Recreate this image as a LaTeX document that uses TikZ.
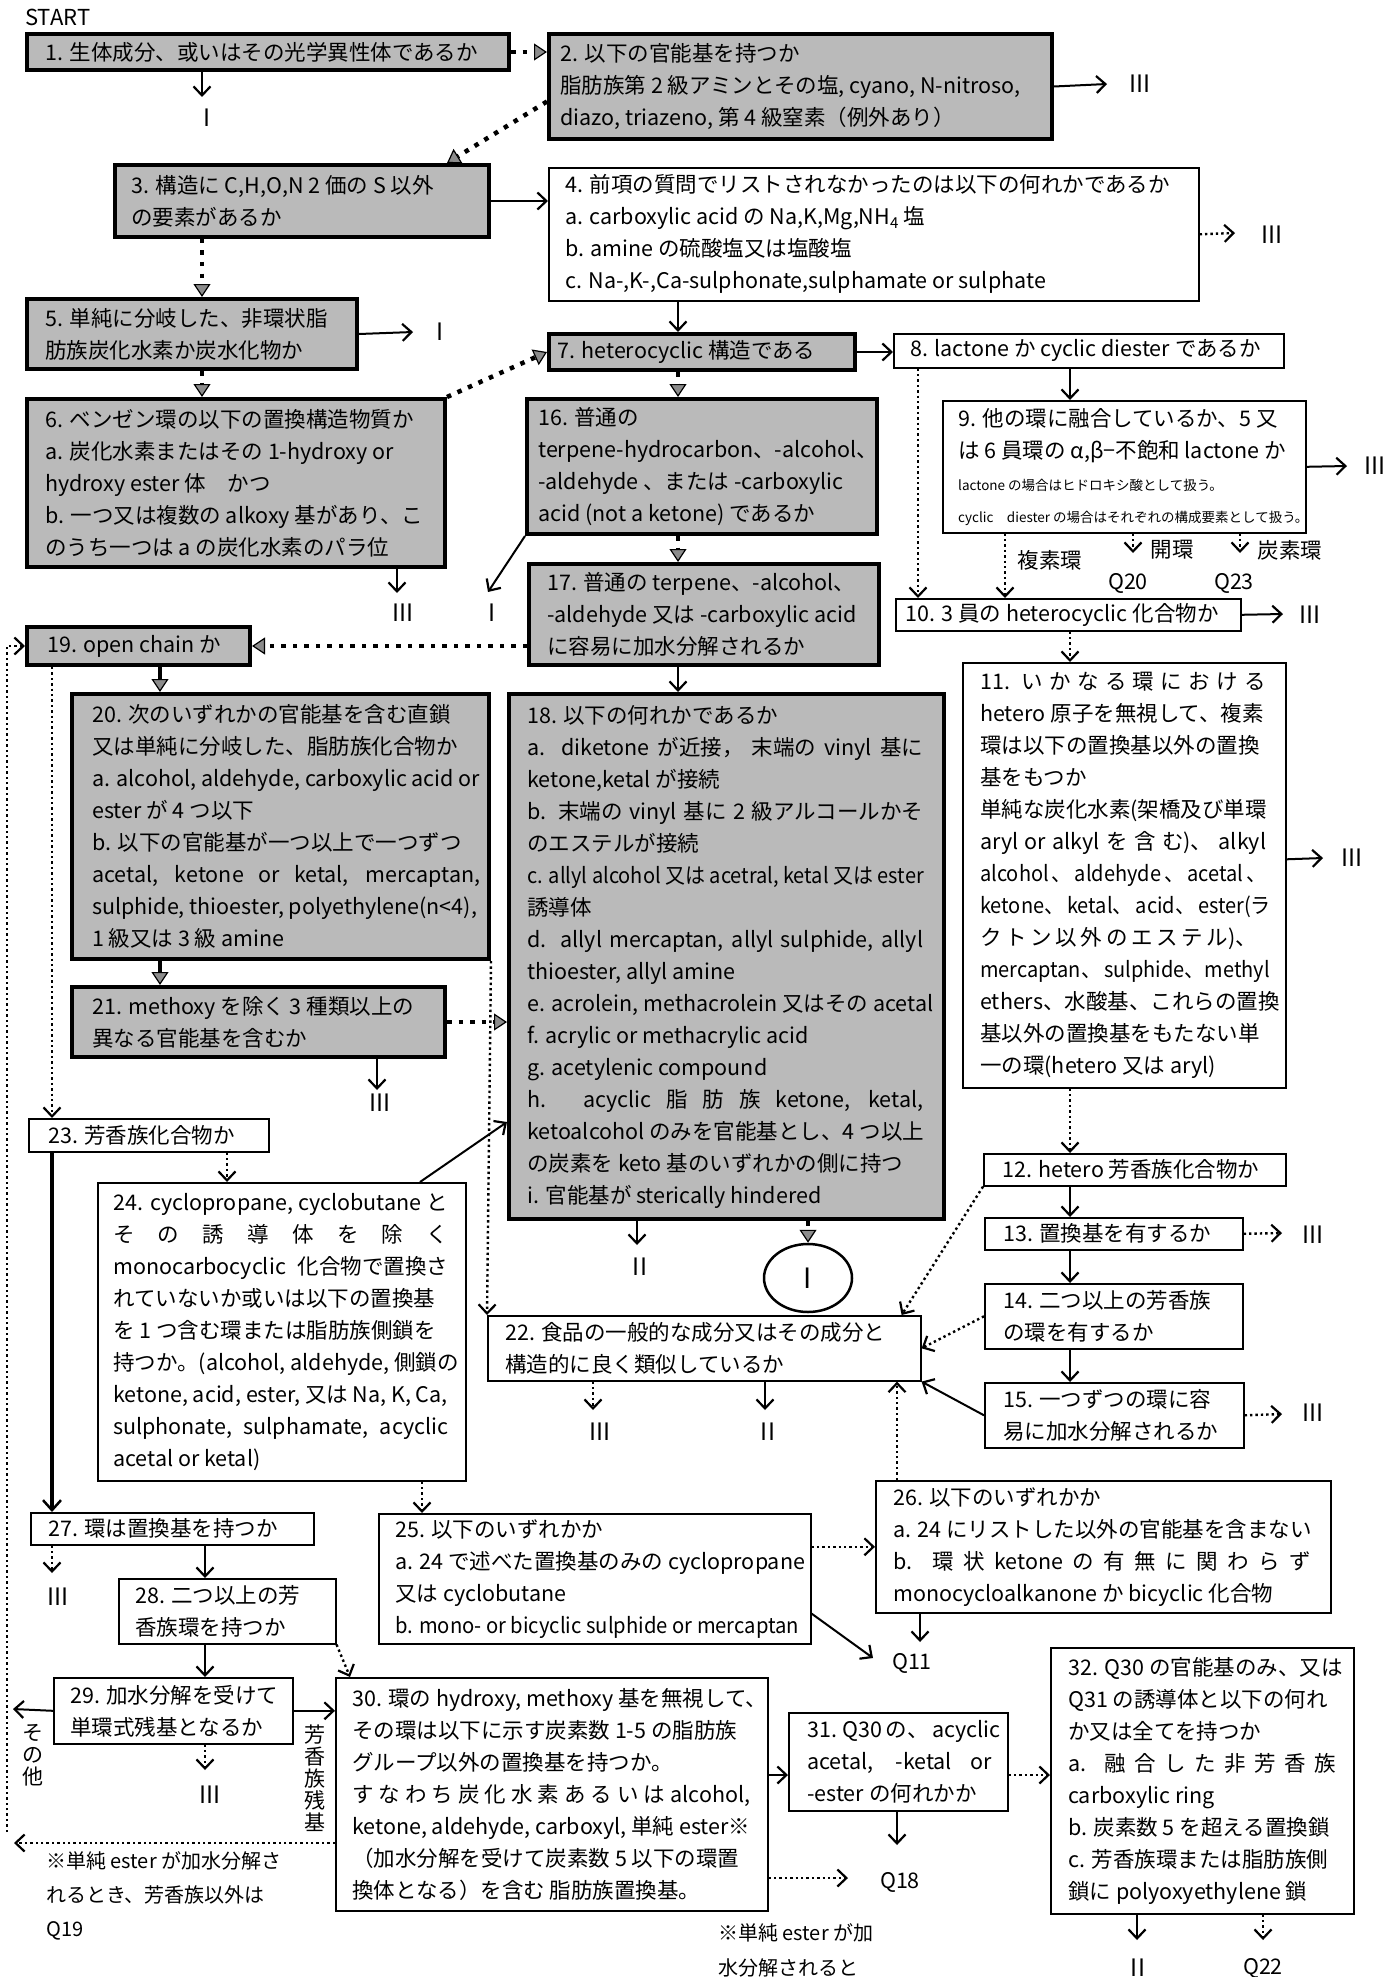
\documentclass[tikz,border=0pt]{standalone}
\usepackage{fontspec}
\usepackage{graphicx}
\setmainfont{Noto Sans CJK JP}
\usetikzlibrary{arrows.meta,shapes.geometric}
\newcommand\jl[2]{\makebox[#1][s]{#2}}
\newcommand\sqz[2]{\scalebox{#1}[1]{#2}}
\newcommand\bx[8]{%
  \node[#1, minimum width=#4pt-#2pt, minimum height=#5pt-#3pt, anchor=north west] (#6) at (#2,#3) {};
  \node[txt] (#6t) at ([xshift=#7pt]#6.west) {#8};}
\begin{document}
\begin{tikzpicture}[x=1pt,y=-1pt,
 font=\fontsize{21.5}{32}\selectfont,
 shb/.style={draw=black,line width=4pt,fill=black!27,inner sep=0pt},
 whb/.style={draw=black,line width=1.6pt,fill=white,inner sep=0pt},
 txt/.style={align=left,inner sep=0pt,anchor=west},
 lab/.style={inner sep=0pt,font=\fontsize{24}{24}\selectfont},
 qlab/.style={inner sep=0pt,font=\fontsize{21.5}{24}\selectfont},
 vlab/.style={inner sep=0pt,align=center,font=\fontsize{21}{22}\selectfont},
 sa/.style={line width=2pt,-{Straight Barb[length=9pt,width=17pt,line width=2.2pt]}},
 da/.style={line width=2.4pt,dash pattern=on 2.4pt off 3pt,-{Straight Barb[length=9pt,width=17pt,line width=2.2pt]}},
 gd/.style={line width=4.5pt,dash pattern=on 4.5pt off 7pt,-{Triangle[length=13pt,width=17pt,line width=1.2pt,fill=black!45]}},
 gs/.style={line width=4pt,-{Triangle[length=13pt,width=17pt,line width=1.2pt,fill=black!45]}},
 tk/.style={line width=3.5pt,-{Straight Barb[length=10pt,width=18pt,line width=2.5pt]}},
]
\fill[white] (0,0) rectangle (1398,1977);
\useasboundingbox (0,0) rectangle (1398,1977);

\node[anchor=west,inner sep=0pt,font=\fontsize{22}{24}\selectfont] (start) at (25,17) {START};

% ---------- boxes ----------
\bx{shb}{25}{32}{507}{68}{b1}{20}{1. 生体成分、或いはその光学異性体であるか}
\bx{shb}{547}{32}{1050}{137}{b2}{13}{2. 以下の官能基を持つか\\脂肪族第 2 級アミンとその塩, cyano, N-nitroso,\\diazo, triazeno, 第 4 級窒素（例外あり）}
\bx{shb}{113}{163}{487}{235}{b3}{18}{3. 構造に C,H,O,N 2 価の S 以外\\の要素があるか}
\bx{whb}{548}{167}{1198}{300}{b4}{17}{4. 前項の質問でリストされなかったのは以下の何れかであるか\\a. carboxylic acid の Na,K,Mg,NH\textsubscript{4} 塩\\b. amine の硫酸塩又は塩酸塩\\c. Na-,K-,Ca-sulphonate,sulphamate or sulphate}
\bx{shb}{25}{297}{355}{367}{b5}{20}{5. 単純に分岐した、非環状脂\\肪族炭化水素か炭水化物か}
\bx{shb}{25}{397}{443}{565}{b6}{20}{6. ベンゼン環の以下の置換構造物質か\\a. 炭化水素またはその 1-hydroxy or\\hydroxy ester 体　かつ\\b. 一つ又は複数の alkoxy 基があり、こ\\のうち一つは a の炭化水素のパラ位}
\bx{shb}{547}{332}{853}{368}{b7}{10}{7. heterocyclic 構造である}
\bx{whb}{893}{333}{1283}{367}{b8}{17}{8. lactone か cyclic diester であるか}
\bx{whb}{942}{400}{1305}{532}{b9}{16}{9. 他の環に融合しているか、5 又\\は 6 員環の α,β−不飽和 lactone か\\{\fontsize{13.5}{14}\selectfont lactone の場合はヒドロキシ酸として扱う。}\\{\fontsize{13.5}{14}\selectfont cyclic\quad diester の場合はそれぞれの構成要素として扱う。}}
\bx{whb}{895}{598}{1240}{630}{b10}{10}{10. 3 員の heterocyclic 化合物か}
\bx{whb}{962}{662}{1285}{1087}{b11}{18}{\jl{286pt}{11. い か な る 環 に お け る}\\hetero 原子を無視して、複素\\環は以下の置換基以外の置換\\基をもつか\\単純な炭化水素(架橋及び単環\\\jl{286pt}{aryl or alkyl を 含 む)、 alkyl}\\\sqz{0.93}{\jl{307pt}{alcohol 、 aldehyde 、 acetal 、}}\\\sqz{0.93}{\jl{307pt}{ketone、 ketal、 acid、 ester(ラ}}\\\jl{277pt}{ク ト ン 以 外 の エ ス テ ル)、}\\\sqz{0.93}{\jl{307pt}{mercaptan、 sulphide、methyl}}\\ethers、水酸基、これらの置換\\基以外の置換基をもたない単\\一の環(hetero 又は aryl)}
\bx{whb}{983}{1153}{1285}{1185}{b12}{19}{12. hetero 芳香族化合物か}
\bx{whb}{984}{1217}{1242}{1249}{b13}{19}{13. 置換基を有するか}
\bx{whb}{984}{1283}{1242}{1348}{b14}{19}{14. 二つ以上の芳香族\\の環を有するか}
\bx{whb}{984}{1382}{1243}{1447}{b15}{19}{15. 一つずつの環に容\\易に加水分解されるか}
\bx{shb}{525}{397}{875}{532}{b16}{13}{16. 普通の\\terpene-hydrocarbon、-alcohol、\\-aldehyde 、または -carboxylic\\acid (not a ketone) であるか}
\bx{shb}{527}{562}{877}{663}{b17}{20}{17. 普通の terpene、-alcohol、\\-aldehyde 又は -carboxylic acid\\に容易に加水分解されるか}
\bx{shb}{507}{692}{942}{1217}{b18}{20}{18. 以下の何れかであるか\\\jl{396pt}{a. diketone が近接， 末端の vinyl 基に}\\ketone,ketal が接続\\\jl{396pt}{b. 末端の vinyl 基に 2 級アルコールかそ}\\のエステルが接続\\\sqz{0.93}{c. allyl alcohol 又は acetral, ketal 又は ester}\\誘導体\\\jl{396pt}{d. allyl mercaptan, allyl sulphide, allyl}\\thioester, allyl amine\\e. acrolein, methacrolein 又はその acetal\\f. acrylic or methacrylic acid\\g. acetylenic compound\\\jl{396pt}{h. acyclic 脂 肪 族 ketone, ketal,}\\ketoalcohol のみを官能基とし、4 つ以上\\の炭素を keto 基のいずれかの側に持つ\\i. 官能基が sterically hindered}
\bx{shb}{25}{625}{248}{663}{b19}{22}{19. open chain か}
\bx{shb}{70}{692}{487}{957}{b20}{22}{20. 次のいずれかの官能基を含む直鎖\\又は単純に分岐した、脂肪族化合物か\\a. alcohol, aldehyde, carboxylic acid or\\ester が 4 つ以下\\b. 以下の官能基が一つ以上で一つずつ\\\jl{388pt}{acetal, ketone or ketal, mercaptan,}\\sulphide, thioester, polyethylene(n<4),\\1 級又は 3 級 amine}
\bx{shb}{70}{985}{443}{1055}{b21}{22}{21. methoxy を除く 3 種類以上の\\異なる官能基を含むか}
\bx{whb}{487}{1315}{920}{1380}{b22}{18}{22. 食品の一般的な成分又はその成分と\\構造的に良く類似しているか}
\bx{whb}{28}{1118}{268}{1151}{b23}{20}{23. 芳香族化合物か}
\bx{whb}{97}{1182}{465}{1480}{b24}{16}{\jl{335pt}{24. cyclopropane, cyclobutane と}\\\jl{335pt}{そ の 誘 導 体 を 除 く}\\\jl{335pt}{monocarbocyclic 化合物で置換さ}\\れていないか或いは以下の置換基\\を 1 つ含む環または脂肪族側鎖を\\持つか。(alcohol, aldehyde, 側鎖の\\ketone, acid, ester, 又は Na, K, Ca,\\\jl{335pt}{sulphonate, sulphamate, acyclic}\\acetal or ketal)}
\bx{whb}{378}{1513}{810}{1643}{b25}{17}{25. 以下のいずれかか\\a. 24 で述べた置換基のみの cyclopropane\\又は cyclobutane\\\sqz{0.94}{b. mono- or bicyclic sulphide or mercaptan}}
\bx{whb}{875}{1480}{1330}{1612}{b26}{18}{26. 以下のいずれかか\\a. 24 にリストした以外の官能基を含まない\\\jl{418pt}{b. 環 状 ketone の 有 無 に 関 わ ら ず}\\monocycloalkanone か bicyclic 化合物}
\bx{whb}{30}{1512}{313}{1544}{b27}{18}{27. 環は置換基を持つか}
\bx{whb}{118}{1578}{335}{1643}{b28}{17}{28. 二つ以上の芳\\香族環を持つか}
\bx{whb}{53}{1677}{292}{1743}{b29}{17}{29. 加水分解を受けて\\単環式残基となるか}
\bx{whb}{335}{1677}{767}{1910}{b30}{17}{30. 環の hydroxy, methoxy 基を無視して、\\その環は以下に示す炭素数 1-5 の脂肪族\\グループ以外の置換基を持つか。\\\jl{398pt}{す な わ ち 炭 化 水 素 あ る い は alcohol,}\\ketone, aldehyde, carboxyl, 単純 ester※\\（加水分解を受けて炭素数 5 以下の環置\\換体となる）を含む 脂肪族置換基。}
\bx{whb}{788}{1712}{1007}{1810}{b31}{19}{\jl{185pt}{31. Q30 の、 acyclic}\\\jl{185pt}{acetal, -ketal or}\\-ester の何れかか}
\bx{whb}{1050}{1647}{1353}{1913}{b32}{18}{32. Q30 の官能基のみ、又は\\Q31 の誘導体と以下の何れ\\か又は全てを持つか\\\jl{268pt}{a. 融 合 し た 非 芳 香 族}\\carboxylic ring\\b. 炭素数 5 を超える置換鎖\\c. 芳香族環または脂肪族側\\鎖に polyoxyethylene 鎖}

\node[ellipse,draw,line width=2.5pt,fill=white,minimum width=88pt,minimum height=68pt,inner sep=0pt,font=\fontsize{28}{28}\selectfont] (cI) at (808,1278) {I};

% ---------- terminal labels ----------
\node[lab] (l1) at (207,118) {I};
\node[lab] (l2) at (1140,84) {III};
\node[lab] (l4) at (1272,235) {III};
\node[lab] (l5) at (440,332) {I};
\node[lab] (l6) at (403,613) {III};
\node[lab] (l9) at (1375,466) {III};
\node[lab] (l10) at (1310,615) {III};
\node[lab] (l11) at (1352,858) {III};
\node[lab] (l13) at (1313,1235) {III};
\node[lab] (l15) at (1313,1413) {III};
\node[lab] (l16) at (492,613) {I};
\node[lab] (l18) at (640,1267) {II};
\node[lab] (l21) at (380,1103) {III};
\node[lab] (l22a) at (600,1432) {III};
\node[lab] (l22b) at (768,1432) {II};
\node[lab] (l27) at (58,1597) {III};
\node[lab] (l29) at (210,1795) {III};
\node[lab] (l32) at (1138,1968) {II};
\node[qlab] (q20) at (1128,583) {Q20};
\node[qlab] (q23) at (1234,583) {Q23};
\node[qlab] (q11) at (912,1663) {Q11};
\node[qlab] (q18) at (900,1882) {Q18};
\node[qlab] (q22) at (1263,1968) {Q22};
\node[qlab] (k1) at (1050,560) {複素環};
\node[qlab] (k2) at (1172,550) {開環};
\node[qlab] (k3) at (1290,550) {炭素環};
\node[vlab] (k4) at (33,1755) {そ\\の\\他};
\node[vlab] (k5) at (315,1778) {芳\\香\\族\\残\\基};
\node[txt,font=\fontsize{20}{34}\selectfont] (n1) at (46,1896) {※単純 ester が加水分解さ\\れるとき、芳香族以外は\\Q19};
\node[txt,font=\fontsize{20}{35}\selectfont] (n2) at (718,1950) {※単純 ester が加\\水分解されると};

% ---------- free ends ----------
\coordinate (e1) at (202,97);
\coordinate (e2) at (1107,84);
\coordinate (e4) at (1235,233);
\coordinate (e5) at (413,332);
\coordinate (e6) at (397,593);
\coordinate (e9) at (1347,466);
\coordinate (e10) at (1283,614);
\coordinate (e11) at (1323,858);
\coordinate (e13) at (1282,1233);
\coordinate (e15) at (1282,1414);
\coordinate (e16) at (488,592);
\coordinate (e18) at (637,1245);
\coordinate (e21) at (377,1090);
\coordinate (e22a) at (593,1410);
\coordinate (e22b) at (765,1410);
\coordinate (e27) at (52,1573);
\coordinate (e29) at (205,1770);
\coordinate (e32a) at (1137,1940);
\coordinate (e32b) at (1263,1940);
\coordinate (eq20) at (1133,553);
\coordinate (eq23) at (1240,553);
\coordinate (eq11a) at (873,1658);
\coordinate (eq11b) at (920,1642);
\coordinate (eq18a) at (897,1845);
\coordinate (eq18b) at (848,1878);
\coordinate (el1) at (13,1709);
\coordinate (el2) at (14,1843);
\coordinate (el3) at (7,1832);

% ---------- connectors ----------
\draw[gd] (b1.east) -- (b1.east -| b2.west);
\draw[sa] (b1.south -| e1) -- (e1);
\draw[gd] ([yshift=-15pt]b2.west) -- (b3.north -| 447,0);
\draw[sa] (b2.east) -- (e2);
\draw[sa] (b3.east) -- (b3.east -| b4.west);
\draw[da] (b4.east) -- (e4);
\draw[gd] (b3.south -| 202,0) -- (b5.north -| 202,0);
\draw[sa] (b5.east) -- (e5);
\draw[gd] (b5.south -| 202,0) -- (b6.north -| 202,0);
\draw[sa] (b6.south -| e6) -- (e6);
\draw[gd] (b6.north east) -- (b7.west);
\draw[sa] (b4.south -| 678,0) -- (b7.north -| 678,0);
\draw[sa] (b7.east) -- (b7.east -| b8.west);
\draw[gd] (b7.south -| 678,0) -- (b16.north -| 678,0);
\draw[sa] (b8.south -| 1070,0) -- (b9.north -| 1070,0);
\draw[sa] (b9.east) -- (e9);
\draw[da] (b8.south -| 918,0) -- (b10.north -| 918,0);
\draw[da] (b9.south -| 1005,0) -- (b10.north -| 1005,0);
\draw[da] (b9.south -| eq20) -- (eq20);
\draw[da] (b9.south -| eq23) -- (eq23);
\draw[sa] (b10.east) -- (e10);
\draw[da] (b10.south -| 1070,0) -- (b11.north -| 1070,0);
\draw[sa] ([yshift=16pt]b11.east) -- (e11);
\draw[da] (b11.south -| 1070,0) -- (b12.north -| 1070,0);
\draw[sa] (b12.south -| 1070,0) -- (b13.north -| 1070,0);
\draw[sa] (b13.south -| 1070,0) -- (b14.north -| 1070,0);
\draw[sa] (b14.south -| 1070,0) -- (b15.north -| 1070,0);
\draw[da] (b13.east) -- (e13);
\draw[da] (b15.east) -- (e15);
\draw[da] (b12.south west) -- ([xshift=-20pt]b22.north east);
\draw[da] (b14.west) -- (b22.east);
\draw[sa] (b15.west) -- (b22.south east);
\draw[gd] (b16.south -| 678,0) -- (b17.north -| 678,0);
\draw[sa] (b16.south west) -- (e16);
\draw[sa] (b17.south -| 678,0) -- (b18.north -| 678,0);
\draw[gd] (b17.west |- b19.east) -- (b19.east);
\draw[gs] (b19.south -| 160,0) -- (b20.north -| 160,0);
\draw[gs] (b20.south -| 160,0) -- (b21.north -| 160,0);
\draw[da] (b19.south -| 52,0) -- (b23.north -| 52,0);
\draw[gd] (b21.east) -- (b21.east -| b18.west);
\draw[sa] (b21.south -| e21) -- (e21);
\draw[sa] (b18.south -| e18) -- (e18);
\draw[gd] (b18.south -| cI.north) -- (cI.north);
\draw[da] (b20.south east) -- (b22.north west);
\draw[da] (b22.south -| e22a) -- (e22a);
\draw[sa] (b22.south -| e22b) -- (e22b);
\draw[tk] (b23.south -| 52,0) -- (b27.north -| 52,0);
\draw[da] (b23.south -| 227,0) -- (b24.north -| 227,0);
\draw[sa] (b24.north -| 420,0) -- (b18.west |- 0,1122);
\draw[da] (b24.south -| 422,0) -- (b25.north -| 422,0);
\draw[da] (b25.east |- b26.west) -- (b26.west);
\draw[sa] ([yshift=31pt]b25.south east) -- (eq11a);
\draw[sa] (b26.south -| eq11b) -- (eq11b);
\draw[da] (b26.north -| 897,0) -- (b22.south -| 897,0);
\draw[da] (b27.south -| e27) -- (e27);
\draw[sa] (b27.south -| 205,0) -- (b28.north -| 205,0);
\draw[sa] (b28.south -| 205,0) -- (b29.north -| 205,0);
\draw[da] (b28.south east) -- ([xshift=15pt]b30.north west);
\draw[sa] (b29.west) -- (el1);
\draw[sa] (b29.east) -- (b29.east -| b30.west);
\draw[da] (b29.south -| e29) -- (e29);
\draw[da] (b30.west |- el2) -- (el2);
\draw[da] (el3) |- (b19.west);
\draw[sa] (b30.east |- 0,1775) -- (b31.west |- 0,1775);
\draw[da] (b30.east |- eq18b) -- (eq18b);
\draw[sa] (b31.south -| eq18a) -- (eq18a);
\draw[da] (b31.east |- 0,1775) -- (b32.west |- 0,1775);
\draw[sa] (b32.south -| e32a) -- (e32a);
\draw[da] (b32.south -| e32b) -- (e32b);
\end{tikzpicture}
\end{document}
